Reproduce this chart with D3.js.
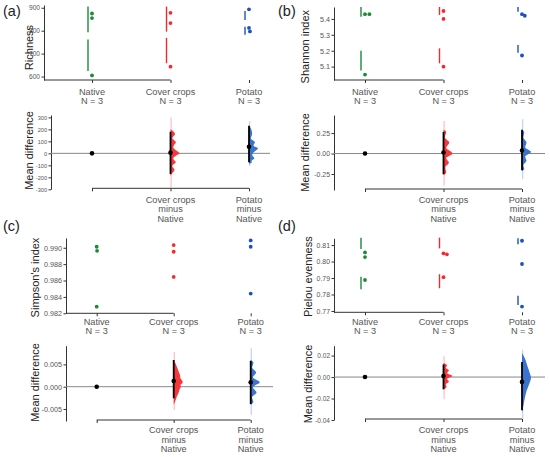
<!DOCTYPE html>
<html>
<head>
<meta charset="utf-8">
<script src="https://cdnjs.cloudflare.com/ajax/libs/d3/7.8.5/d3.min.js"></script>
<style>
body { margin: 0; background: #fff; }
svg { font-family: "Liberation Sans", Arial, sans-serif; }
</style>
</head>
<body>
<svg id="chart" width="550" height="457"></svg>
<script>
// groups and colours
const groups = ["Native", "Cover crops", "Potato"];
const groupN = [3, 3, 3];
const dotColours = ["#1b8a3a", "#f5282e", "#1b50c0"];
const distColours = ["#000", "#f6383d", "#3a74cc"];

// raw values (one array per group)
const richness = [[875, 855, 605], [878, 833, 643], [893, 812, 797]];
const shannon = [[5.43, 5.43, 5.05], [5.45, 5.40, 5.10], [5.43, 5.42, 5.17]];
const simpson = [[0.99012, 0.98963, 0.98281], [0.99033, 0.98951, 0.98644], [0.99090, 0.99012, 0.98441]];
const pielou = [[0.8055, 0.8027, 0.7888], [0.8050, 0.8044, 0.7905], [0.8126, 0.7985, 0.7727]];

// gapped mean/sd lines: [lower segment, upper segment] per group
const richnessLines = [[[624, 762], [793, 905]], [[658, 769], [796, 905]], [[782, 817], [847, 886]]];
const shannonLines = [[[5.075, 5.20], [5.414, 5.475]], [[5.121, 5.215], [5.425, 5.475]], [[5.188, 5.236], [5.445, 5.475]]];
const simpsonLines = [];
const pielouLines = [[[0.7832, 0.7908], [0.8076, 0.8145]], [[0.7838, 0.7923], [0.8080, 0.8145]], [[0.7736, 0.7793], [0.8105, 0.8141]]];

// y tick values and labels
const richnessTicks = [600, 700, 800, 900];
const richnessTickText = ["600", "700", "800", "900"];
const shannonTicks = [5.1, 5.2, 5.3, 5.4];
const shannonTickText = ["5.1", "5.2", "5.3", "5.4"];
const simpsonTicks = [0.982, 0.984, 0.986, 0.988, 0.990];
const simpsonTickText = ["0.982", "0.984", "0.986", "0.988", "0.990"];
const pielouTicks = [0.77, 0.78, 0.79, 0.80, 0.81];
const pielouTickText = ["0.77", "0.78", "0.79", "0.80", "0.81"];

const richnessDiffTicks = [-300, -200, -100, 0, 100, 200, 300];
const richnessDiffTickText = ["-300", "-200", "-100", "0", "100", "200", "300"];
const shannonDiffTicks = [-0.25, 0, 0.25];
const shannonDiffTickText = ["-0.25", "0.00", "0.25"];
const simpsonDiffTicks = [-0.005, 0, 0.005];
const simpsonDiffTickText = ["-0.005", "0.000", "0.005"];
const pielouDiffTicks = [-0.04, -0.02, 0, 0.02];
const pielouDiffTickText = ["-0.04", "-0.02", "0.00", "0.02"];

// mean differences vs Native: [Cover crops, Potato]
const richnessDiff = [6, 55];
const richnessCI = [[-172, 180], [-75, 230]];
const richnessTails = [[-283, 300], [-105, 270]];
const shannonDiff = [0.013, 0.037];
const shannonCI = [[-0.252, 0.264], [-0.203, 0.289]];
const shannonTails = [[-0.394, 0.398], [-0.313, 0.419]];
const simpsonDiff = [0.00127, 0.00098];
const simpsonCI = [[-0.0026, 0.0060], [-0.0039, 0.0058]];
const simpsonTails = [[-0.0052, 0.0078], [-0.0063, 0.0086]];
const pielouDiff = [0.0009, -0.0045];
const pielouCI = [[-0.0114, 0.0117], [-0.031, 0.014]];
const pielouTails = [[-0.0206, 0.0194], [-0.039, 0.0255]];

// bootstrap density profiles [value, relative density]
const richnessDensCover = [[198, 0], [185, 0.3], [160, 0.5], [140, 0.3], [125, 0.2], [110, 0.4], [92, 0.6], [70, 0.4], [50, 0.3], [25, 0.6], [0, 1.0], [-20, 0.6], [-42, 0.3], [-60, 0.45], [-75, 0.6], [-92, 0.35], [-108, 0.2], [-125, 0.35], [-139, 0.45], [-160, 0.25], [-186, 0]];
const richnessDensPotato = [[232, 0], [215, 0.15], [161, 0.35], [125, 0.2], [92, 0.65], [64, 0.5], [42, 1.0], [8, 0.5], [-14, 0.35], [-42, 0.6], [-60, 0.3], [-75, 0.3], [-90, 0]];
const shannonDensCover = [[0.289, 0], [0.264, 0.3], [0.2, 0.15], [0.134, 0.65], [0.069, 0.3], [0, 1.0], [-0.057, 0.3], [-0.11, 0.6], [-0.171, 0.2], [-0.232, 0.3], [-0.264, 0]];
const shannonDensPotato = [[0.289, 0], [0.256, 0.25], [0.195, 0.15], [0.134, 0.5], [0.077, 0.35], [0.02, 1.0], [-0.037, 0.35], [-0.089, 0.5], [-0.142, 0.15], [-0.191, 0.25], [-0.211, 0]];
const simpsonDensCover = [[0.0060, 0], [0.0052, 0.2], [0.0045, 0.35], [0.0037, 0.5], [0.0026, 0.7], [0.0019, 0.75], [0.0015, 0.9], [0.0009, 1.0], [0.0004, 0.75], [0, 0.8], [-0.0006, 0.65], [-0.0011, 0.6], [-0.0022, 0.35], [-0.0034, 0.15], [-0.0041, 0]];
const simpsonDensPotato = [[0.0060, 0], [0.0054, 0.3], [0.0043, 0.15], [0.0032, 0.6], [0.0021, 0.25], [0.00097, 1.0], [-0.00015, 0.25], [-0.0013, 0.65], [-0.0024, 0.15], [-0.0034, 0.3], [-0.0041, 0]];
const pielouDensCover = [[0.0132, 0], [0.011, 0.4], [0.0086, 0.25], [0.0062, 0.6], [0.0037, 0.4], [0.0009, 1.0], [-0.0018, 0.4], [-0.0043, 0.6], [-0.0068, 0.25], [-0.0092, 0.35], [-0.0114, 0]];
const pielouDensPotato = [[0.0225, 0], [0.0178, 0.3], [0.0102, 0.6], [0.004, 0.85], [-0.0006, 1.0], [-0.0052, 0.85], [-0.013, 0.5], [-0.0222, 0.25], [-0.0298, 0.08], [-0.0329, 0]];

const panels = [
  {label: "(a)", title: "Richness", raw: richness, lines: richnessLines, ticks: richnessTicks, tickText: richnessTickText,
   diff: richnessDiff, ci: richnessCI, tails: richnessTails, dens: [richnessDensCover, richnessDensPotato],
   diffTicks: richnessDiffTicks, diffTickText: richnessDiffTickText,
   lay: {labelX: 3, labelY: 16, axisX: 44, gx: [92, 249], top: [[585, 912], [80, 5]], botAxisX: 51, bot: [[-300, 320], [189.3, 115]],
         tickFont: 6.6, dTickFont: 5.6,
         zeroEnd: 270, titleX: 29, titleTopY: 47.5, titleBotY: 150.5, xLabelY: 95, dLabelY: 202.5, dAxisY: 188.3}},
  {label: "(b)", title: "Shannon index", raw: shannon, lines: shannonLines, ticks: shannonTicks, tickText: shannonTickText,
   diff: shannonDiff, ci: shannonCI, tails: shannonTails, dens: [shannonDensCover, shannonDensPotato],
   diffTicks: shannonDiffTicks, diffTickText: shannonDiffTickText,
   lay: {labelX: 278, labelY: 16, axisX: 334, gx: [365, 522], top: [[5.016, 5.475], [80, 7]], botAxisX: 334, bot: [[-0.445, 0.47], [190, 115]],
         tickFont: 7.2, dTickFont: 6.9,
         zeroEnd: 545, titleX: 305.5, titleTopY: 46.7, titleBotY: 152.5, xLabelY: 95, dLabelY: 202.5, dAxisY: 189}},
  {label: "(c)", title: "Simpson's index", raw: simpson, lines: simpsonLines, ticks: simpsonTicks, tickText: simpsonTickText,
   diff: simpsonDiff, ci: simpsonCI, tails: simpsonTails, dens: [simpsonDensCover, simpsonDensPotato],
   diffTicks: simpsonDiffTicks, diffTickText: simpsonDiffTickText,
   lay: {labelX: 3, labelY: 231, axisX: 66, gx: [96.7, 250.7], top: [[0.982, 0.99119], [313.3, 238]], botAxisX: 66, bot: [[-0.0077, 0.0092], [421, 345.7]],
         tickFont: 7.2, dTickFont: 7.2,
         zeroEnd: 273, titleX: 35, titleTopY: 277.5, titleBotY: 382.5, xLabelY: 325, dLabelY: 433, dAxisY: 420}},
  {label: "(d)", title: "Pielou evenness", raw: pielou, lines: pielouLines, ticks: pielouTicks, tickText: pielouTickText,
   diff: pielouDiff, ci: pielouCI, tails: pielouTails, dens: [pielouDensCover, pielouDensPotato],
   diffTicks: pielouDiffTicks, diffTickText: pielouDiffTickText,
   lay: {labelX: 278, labelY: 231, axisX: 334, gx: [365, 522], top: [[0.7692, 0.8141], [312.3, 238.3]], botAxisX: 334, bot: [[-0.04, 0.0292], [420, 345.7]],
         tickFont: 6.9, dTickFont: 6.5,
         zeroEnd: 545, titleX: 308, titleTopY: 276.7, titleBotY: 384, xLabelY: 325, dLabelY: 433, dAxisY: 419}}
];

const svg = d3.select("#chart");
svg.append("rect").attr("width", 550).attr("height", 457).attr("fill", "#fff");

const axisColour = "#333";
const tickTextColour = "#555";
const dotR = 1.9;
const maxW = 9;

// simple swarm: nudge dots sideways when they overlap
function swarm(vals, y, cx) {
  const placed = [];
  const d = 2 * 2.2;
  return vals.map(v => {
    const py = y(v);
    let dx = 0;
    placed.forEach(p => {
      const dy = Math.abs(p.y - py);
      if (dy < d && Math.abs(p.dx - dx) < d) dx = p.dx + (d - dy);
    });
    placed.push({y: py, dx: dx});
    return {x: cx + dx, y: py};
  });
}

function styleAxis(g, size) {
  g.select(".domain").attr("stroke", axisColour).attr("stroke-width", 1);
  g.selectAll(".tick line").attr("stroke", axisColour);
  g.selectAll(".tick text").attr("fill", tickTextColour).style("font-size", size + "px");
}

panels.forEach(p => {
  const L = p.lay;
  const x = d3.scalePoint().domain(groups).range([L.gx[0], L.gx[1]]);
  const y = d3.scaleLinear().domain(L.top[0]).range(L.top[1]);
  const yd = d3.scaleLinear().domain(L.bot[0]).range(L.bot[1]);
  const g = svg.append("g");

  // panel letter
  g.append("text").attr("x", L.labelX).attr("y", L.labelY)
    .style("font-size", "14.5px").attr("fill", "#222").text(p.label);

  // ---- raw data (top) ----
  const yAxis = g.append("g").attr("transform", "translate(" + L.axisX + ",0)")
    .call(d3.axisLeft(y).tickValues(p.ticks).tickFormat((d, i) => p.tickText[i]).tickSize(2.5).tickSizeOuter(0).tickPadding(1.5));
  styleAxis(yAxis, L.tickFont);

  const xAxisY = L.top[1][0];
  g.append("line").attr("x1", L.axisX).attr("x2", x(groups[1]))
    .attr("y1", xAxisY).attr("y2", xAxisY).attr("stroke", axisColour);
  const xAxis = g.append("g").attr("transform", "translate(0," + xAxisY + ")")
    .call(d3.axisBottom(x).tickSize(3).tickFormat(""));
  xAxis.select(".domain").remove();
  xAxis.selectAll(".tick line").attr("stroke", axisColour);

  groups.forEach((name, i) => {
    const t = g.append("text").attr("text-anchor", "middle").attr("fill", tickTextColour)
      .style("font-size", "9.2px");
    t.append("tspan").attr("x", x(name)).attr("y", L.xLabelY).text(name);
    t.append("tspan").attr("x", x(name)).attr("y", L.xLabelY + 9.3).text("N = " + groupN[i]);
  });

  g.append("text")
    .attr("transform", "translate(" + L.titleX + "," + L.titleTopY + ") rotate(-90)")
    .attr("text-anchor", "middle").attr("dy", "0.35em")
    .style("font-size", "11px").attr("fill", "#222").text(p.title);

  // gapped lines
  p.lines.forEach((segs, i) => {
    segs.forEach(s => {
      g.append("line").attr("x1", x(groups[i]) - 4).attr("x2", x(groups[i]) - 4)
        .attr("y1", y(s[0])).attr("y2", y(s[1]))
        .attr("stroke", dotColours[i]).attr("stroke-width", 1.4);
    });
  });

  // dots
  p.raw.forEach((vals, i) => {
    g.selectAll(null).data(swarm(vals, y, x(groups[i]))).enter().append("circle")
      .attr("cx", d => d.x).attr("cy", d => d.y).attr("r", dotR)
      .attr("fill", dotColours[i]);
  });

  // ---- mean differences (bottom) ----
  const dAxis = g.append("g").attr("transform", "translate(" + L.botAxisX + ",0)")
    .call(d3.axisLeft(yd).tickValues(p.diffTicks).tickFormat((d, i) => p.diffTickText[i]).tickSize(2.5).tickSizeOuter(0).tickPadding(1.5));
  styleAxis(dAxis, L.dTickFont);

  g.append("line").attr("x1", L.botAxisX).attr("x2", L.zeroEnd)
    .attr("y1", yd(0)).attr("y2", yd(0)).attr("stroke", "#888").attr("stroke-width", 1);

  g.append("line").attr("x1", L.gx[0]).attr("x2", L.gx[1])
    .attr("y1", L.dAxisY).attr("y2", L.dAxisY).attr("stroke", axisColour);
  const dxAxis = g.append("g").attr("transform", "translate(0," + L.dAxisY + ")")
    .call(d3.axisBottom(x).tickSize(3).tickFormat(""));
  dxAxis.select(".domain").remove();
  dxAxis.selectAll(".tick line").attr("stroke", axisColour);

  groups.slice(1).forEach(name => {
    const t = g.append("text").attr("text-anchor", "middle").attr("fill", tickTextColour)
      .style("font-size", "9.2px");
    [name, "minus", groups[0]].forEach((line, k) => {
      t.append("tspan").attr("x", x(name)).attr("y", L.dLabelY + k * 9.5).text(line);
    });
  });

  g.append("text")
    .attr("transform", "translate(" + L.titleX + "," + L.titleBotY + ") rotate(-90)")
    .attr("text-anchor", "middle").attr("dy", "0.35em")
    .style("font-size", "11px").attr("fill", "#222").text("Mean difference");

  // reference group at zero
  g.append("circle").attr("cx", x(groups[0])).attr("cy", yd(0)).attr("r", 2.3).attr("fill", "#000");

  groups.slice(1).forEach((name, j) => {
    const cx = x(name);
    const col = distColours[j + 1];
    g.append("line").attr("x1", cx + 0.6).attr("x2", cx + 0.6)
      .attr("y1", yd(p.tails[j][0])).attr("y2", yd(p.tails[j][1]))
      .attr("stroke", col).attr("stroke-opacity", 0.3).attr("stroke-width", 1.3);
    const area = d3.area()
      .y(d => yd(d[0]))
      .x0(cx)
      .x1(d => cx + d[1] * maxW)
      .curve(d3.curveMonotoneY);
    g.append("path").datum(p.dens[j]).attr("d", area).attr("fill", col);
    g.append("line").attr("x1", cx).attr("x2", cx)
      .attr("y1", yd(p.ci[j][0])).attr("y2", yd(p.ci[j][1]))
      .attr("stroke", "#000").attr("stroke-width", 1.8);
    g.append("circle").attr("cx", cx).attr("cy", yd(p.diff[j])).attr("r", 2.3).attr("fill", "#000");
  });
});
</script>
</body>
</html>
